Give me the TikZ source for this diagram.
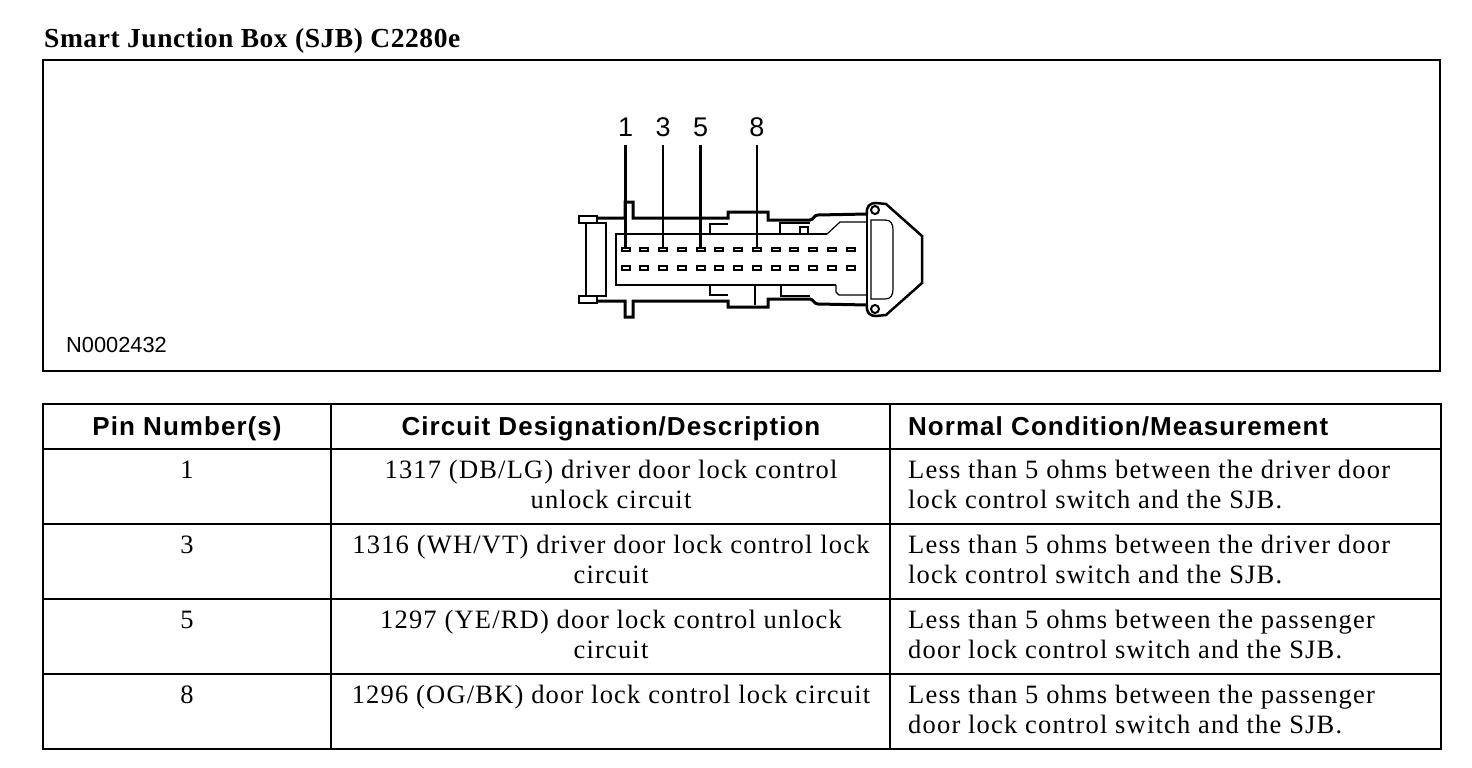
\documentclass[tikz,border=0pt]{standalone}
\usepackage{fontspec}
\setmainfont{Liberation Serif}
\newfontfamily\arialfont{Liberation Sans}
\newfontfamily\bodyfont[LetterSpace=4.5]{Liberation Serif}
\newfontfamily\headfont[LetterSpace=4]{Liberation Sans}
\newfontfamily\titlefont[LetterSpace=2]{Liberation Serif}
\tikzset{
  body/.style={font=\bodyfont\fontsize{26.5}{30}\selectfont, inner sep=0pt},
  headtxt/.style={font=\headfont\bfseries\fontsize{26}{30}\selectfont, inner sep=0pt},
  titletxt/.style={font=\titlefont\bfseries\fontsize{27.5}{30}\selectfont, inner sep=0pt},
  pinlabel/.style={font=\arialfont\fontsize{27}{28}\selectfont, inner sep=0pt},
  figid/.style={font=\arialfont\fontsize{21.8}{24}\selectfont, inner sep=0pt},
  frameline/.style={line width=2.5pt},
  outline/.style={line width=3pt, line join=miter},
  thinline/.style={line width=1.2pt},
  midline/.style={line width=2pt},
  leader/.style={line width=2.5pt},
  pinbox/.style={draw, line width=2pt, rectangle, minimum width=8pt, minimum height=3.5pt, inner sep=0pt}
}
\begin{document}
\begin{tikzpicture}[x=1pt,y=-1pt]
\useasboundingbox (0,0) rectangle (1472,768);
\fill[white] (0,0) rectangle (1472,768);

% title and frame
\node[titletxt, anchor=base west] (title) at (44,48) {Smart Junction Box (SJB) C2280e};
\draw[frameline] (43,60) rectangle (1440,371);
\node[figid, anchor=base west] (figid) at (66,352) {N0002432};

% ---------- connector ----------
% outer outline, top and bottom
\draw[outline] (598,218) -- (625,218) -- (625,202) -- (633,202) -- (633,218) -- (728,218) -- (728,212) -- (768,212) -- (768,220) -- (810,220) .. controls (813,220) and (814,215) .. (818,215) -- (867,214);
\draw[outline] (598,301) -- (625,301) -- (625,317) -- (633,317) -- (633,301) -- (728,301) -- (728,307) -- (768,307) -- (768,299) -- (810,299) .. controls (813,299) and (814,304) .. (818,304) -- (867,305);
% left cap
\draw[frameline] (579,216) rectangle (597,223);
\draw[frameline] (579,296) rectangle (597,303);
\draw[frameline] (586,223) -- (586,296);
\draw[thinline] (586,223) -- (606,223) -- (606,296) -- (586,296);
% inner housing
\draw[thinline] (827,234) -- (616,234) -- (616,285) -- (836,285);
\draw[thinline] (827,234) -- (840,222) -- (867,222);
\draw[thinline] (836,285) -- (836,292) -- (839,295) -- (867,295);
\draw[thinline] (710,234) -- (710,224) -- (728,224);
\draw[thinline] (710,285) -- (710,295) -- (728,295);
\draw[thinline] (780,234) -- (780,223) -- (810,223);
\draw[thinline] (781,285) -- (781,296) -- (810,296);
\draw[thinline] (800,234) -- (800,227) -- (808,227) -- (808,234);
\draw[thinline] (755,285) -- (755,305);
% right end and flange
\draw[midline] (867,214) -- (867,305);
\draw[thinline] (871,220) -- (885,220) .. controls (891,220) and (893,224) .. (893,230) -- (893,289) .. controls (893,295) and (891,299) .. (885,299) -- (871,299) -- cycle;
\draw[midline] (875,210) circle (4);
\draw[midline] (875,309) circle (4);
\draw[frameline] (867,214) .. controls (866,206) and (870,203) .. (876,203) -- (886,204) -- (922,236) -- (922,283) -- (886,315) -- (876,316) .. controls (870,316) and (866,313) .. (867,305);

% pins
\foreach \i in {0,...,12} {
  \pgfmathsetmacro{\px}{625.7+\i*18.75}
  \node[pinbox] (pa\i) at (\px,249.5) {};
  \node[pinbox] (pb\i) at (\px,268) {};
}
% pin labels and leaders
\foreach \n/\i in {1/0,3/2,5/4,8/7} {
  \pgfmathsetmacro{\px}{625.7+\i*18.75}
  \node[pinlabel, anchor=base] (lab\n) at (\px,136) {\n};
  \draw[leader] (lab\n.south) ++(0,9) -- (pa\i.north);
}

% ---------- table ----------
\draw[frameline] (43,404) rectangle (1441,749);
\foreach \yy in {449,524,599,674} { \draw[frameline] (43,\yy) -- (1441,\yy); }
\draw[frameline] (331,404) -- (331,749);
\draw[frameline] (890,404) -- (890,749);

\node[headtxt, anchor=base] (h1) at (187,435) {Pin Number(s)};
\node[headtxt, anchor=base] (h2) at (611,435) {Circuit Designation/Description};
\node[headtxt, anchor=base west] (h3) at (908,435) {Normal Condition/Measurement};

% row 1
\node[body, anchor=base] (r1a) at (187,478) {1};
\node[body, anchor=base] (r1b) at (611,478) {1317 (DB/LG) driver door lock control};
\node[body, anchor=base] (r1c) at (611,508) {unlock circuit};
\node[body, anchor=base west] (r1d) at (908,478) {Less than 5 ohms between the driver door};
\node[body, anchor=base west] (r1e) at (908,508) {lock control switch and the SJB.};
% row 2
\node[body, anchor=base] (r2a) at (187,553) {3};
\node[body, anchor=base] (r2b) at (611,553) {1316 (WH/VT) driver door lock control lock};
\node[body, anchor=base] (r2c) at (611,583) {circuit};
\node[body, anchor=base west] (r2d) at (908,553) {Less than 5 ohms between the driver door};
\node[body, anchor=base west] (r2e) at (908,583) {lock control switch and the SJB.};
% row 3
\node[body, anchor=base] (r3a) at (187,628) {5};
\node[body, anchor=base] (r3b) at (611,628) {1297 (YE/RD) door lock control unlock};
\node[body, anchor=base] (r3c) at (611,658) {circuit};
\node[body, anchor=base west] (r3d) at (908,628) {Less than 5 ohms between the passenger};
\node[body, anchor=base west] (r3e) at (908,658) {door lock control switch and the SJB.};
% row 4
\node[body, anchor=base] (r4a) at (187,703) {8};
\node[body, anchor=base] (r4b) at (611,703) {1296 (OG/BK) door lock control lock circuit};
\node[body, anchor=base west] (r4d) at (908,703) {Less than 5 ohms between the passenger};
\node[body, anchor=base west] (r4e) at (908,733) {door lock control switch and the SJB.};
\end{tikzpicture}
\end{document}
